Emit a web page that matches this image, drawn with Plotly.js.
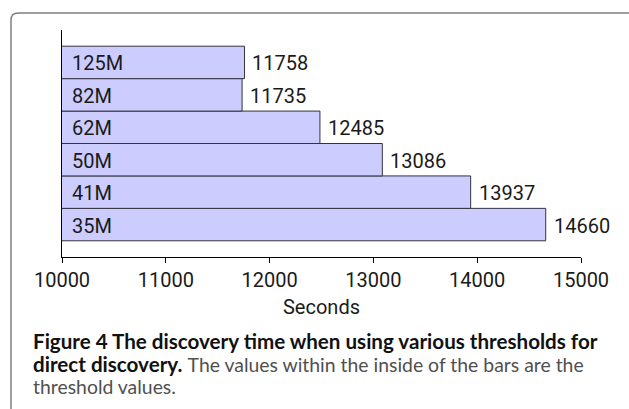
<!DOCTYPE html>
<html>
<head>
<meta charset="utf-8">
<script src="https://cdn.plot.ly/plotly-3.0.1.min.js"></script>
<style>
  html, body { margin: 0; padding: 0; background: #ffffff; }
  #chart { width: 629px; height: 409px; }
</style>
</head>
<body>
<div id="chart"></div>
<script>
// Data (bottom to top)
var thresholds = ['35M', '41M', '50M', '62M', '82M', '125M'];
var seconds = [14660, 13937, 13086, 12485, 11735, 11758];
var xTickVals = [10000, 11000, 12000, 13000, 14000, 15000];
var xTickText = ['10000', '11000', '12000', '13000', '14000', '15000'];
var xAxisTitle = 'Seconds';
var captionLines = [
  '<b>Figure 4 The discovery time when using various thresholds for</b>',
  '<b>direct discovery.</b> <span style="color:#505050;font-size:19.4px">The values within the inside of the bars are the</span>',
  '<span style="color:#505050;font-size:19.4px">threshold values.</span>'
];

var chartFont = 'Roboto, "DejaVu Sans", sans-serif';
var textColor = '#1a1a1a';

var trace = {
  type: 'bar',
  orientation: 'h',
  x: seconds,
  y: thresholds,
  marker: { color: '#ccccff', line: { color: '#333340', width: 1 } },
  hoverinfo: 'none',
  showlegend: false
};

var annotations = [];
thresholds.forEach(function (t, i) {
  // threshold label inside the bar, at its left
  annotations.push({
    x: xTickVals[0], y: t, xref: 'x', yref: 'y',
    text: t, showarrow: false, xanchor: 'left', yanchor: 'middle',
    xshift: 8, yshift: -1, font: { family: chartFont, size: 20, color: textColor }
  });
  // value label just after the bar end
  annotations.push({
    x: seconds[i], y: t, xref: 'x', yref: 'y',
    text: String(seconds[i]), showarrow: false, xanchor: 'left', yanchor: 'middle',
    xshift: 6, yshift: -1, font: { family: chartFont, size: 20, color: textColor }
  });
});

var captionFont = 'Lato, "Open Sans", sans-serif';
var captionY = [-0.3700, -0.4705, -0.5710];
captionLines.forEach(function (line, i) {
  annotations.push({
    x: -0.0597, y: captionY[i], xref: 'paper', yref: 'paper',
    text: line, showarrow: false, xanchor: 'left', yanchor: 'middle', align: 'left',
    font: { family: captionFont, size: 20.6, color: '#111111' }
  });
});

var layout = {
  width: 629,
  height: 409,
  margin: { l: 62, r: 48, t: 30, b: 152 },
  paper_bgcolor: '#ffffff',
  plot_bgcolor: '#ffffff',
  bargap: 0,
  xaxis: {
    range: [10000, 15000],
    tickvals: xTickVals,
    ticktext: xTickText,
    ticks: 'outside',
    ticklen: 5,
    tickwidth: 1,
    tickcolor: '#000000',
    showline: true,
    linecolor: '#000000',
    linewidth: 1,
    showgrid: false,
    zeroline: false,
    tickfont: { family: chartFont, size: 20, color: textColor },
    title: { text: xAxisTitle, font: { family: chartFont, size: 20, color: textColor }, standoff: 8 }
  },
  yaxis: {
    type: 'category',
    categoryorder: 'array',
    categoryarray: thresholds,
    range: [-1, 6],
    showline: true,
    linecolor: '#000000',
    linewidth: 1,
    showticklabels: false,
    ticks: '',
    showgrid: false,
    zeroline: false
  },
  annotations: annotations,
  shapes: [{
    type: 'path',
    xref: 'paper', yref: 'paper',
    path: 'M -0.09827,-0.8 L -0.09827,1.04405 Q -0.09827,1.07489 -0.08478,1.07489 L 1.2,1.07489',
    line: { color: '#7f7f7f', width: 1.5 }
  }]
};

Plotly.newPlot('chart', [trace], layout, { staticPlot: true, displayModeBar: false });
</script>
</body>
</html>
